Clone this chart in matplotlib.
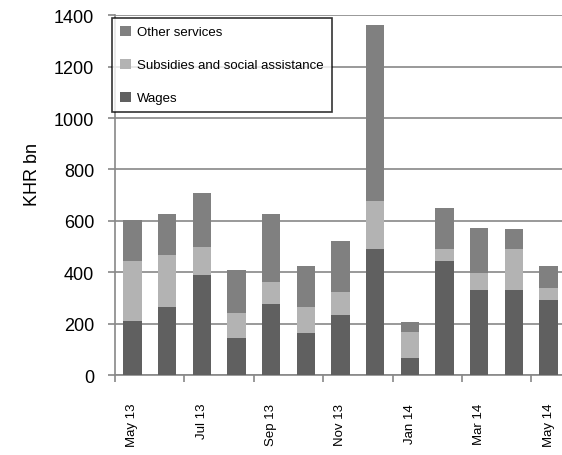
import matplotlib.pyplot as plt
import numpy as np

months = ['May 13', 'Jun 13', 'Jul 13', 'Aug 13', 'Sep 13', 'Oct 13', 'Nov 13',
          'Dec 13', 'Jan 14', 'Feb 14', 'Mar 14', 'Apr 14', 'May 14']
wages = [209, 265, 388, 143, 275, 162, 232, 489, 65, 443, 330, 330, 291]
subsidies = [234, 201, 109, 97, 86, 102, 90, 187, 101, 46, 66, 159, 46]
other = [159, 160, 210, 168, 265, 159, 198, 686, 39, 160, 175, 78, 86]

plt.rcParams['font.family'] = ['Liberation Sans', 'DejaVu Sans']

fig = plt.figure(figsize=(5.62, 4.56), dpi=100)
ax = fig.add_axes([0.2046, 0.1754, 0.8025, 0.789])

x = np.arange(len(months))
w = 0.53
b1 = ax.bar(x, wages, w, color='#606060', label='Wages', zorder=3)
b2 = ax.bar(x, subsidies, w, bottom=wages, color='#b3b3b3',
            label='Subsidies and social assistance', zorder=3)
bottom2 = np.array(wages) + np.array(subsidies)
b3 = ax.bar(x, other, w, bottom=bottom2, color='#808080', label='Other services', zorder=3)

ax.set_xlim(-0.5, len(months) - 0.5)
ax.set_ylim(0, 1400)
ax.set_yticks(range(0, 1401, 200))
ax.tick_params(axis='y', labelsize=13, length=5, color='#888888', width=1.2, pad=10)
ax.yaxis.grid(True, color='#999999', linewidth=1.4, zorder=0)

ax.set_xticks(x[::2])
ax.set_xticklabels(months[::2], rotation=90, fontsize=9.5)
ax.tick_params(axis='x', length=0, pad=20)
ax.set_xticks(np.arange(-0.5, len(months), 2), minor=True)
ax.tick_params(axis='x', which='minor', length=5, color='#888888', width=1.2)

for s in ['top', 'right']:
    ax.spines[s].set_visible(False)
for s in ['left', 'bottom']:
    ax.spines[s].set_color('#888888')
    ax.spines[s].set_linewidth(1.2)

ax.set_ylabel('KHR bn', fontsize=13)
ax.yaxis.set_label_coords(-0.165, 0.56)

leg = ax.legend(handles=[b3, b2, b1], loc='upper left', bbox_to_anchor=(-0.006, 0.993),
                fontsize=9.5, frameon=True, fancybox=False, handlelength=0.8,
                handleheight=0.8, labelspacing=1.55, handletextpad=0.5, borderpad=0.6,
                borderaxespad=0)
leg.get_frame().set_edgecolor('black')
leg.get_frame().set_linewidth(1.2)

fig.savefig('out.png', dpi=100)
